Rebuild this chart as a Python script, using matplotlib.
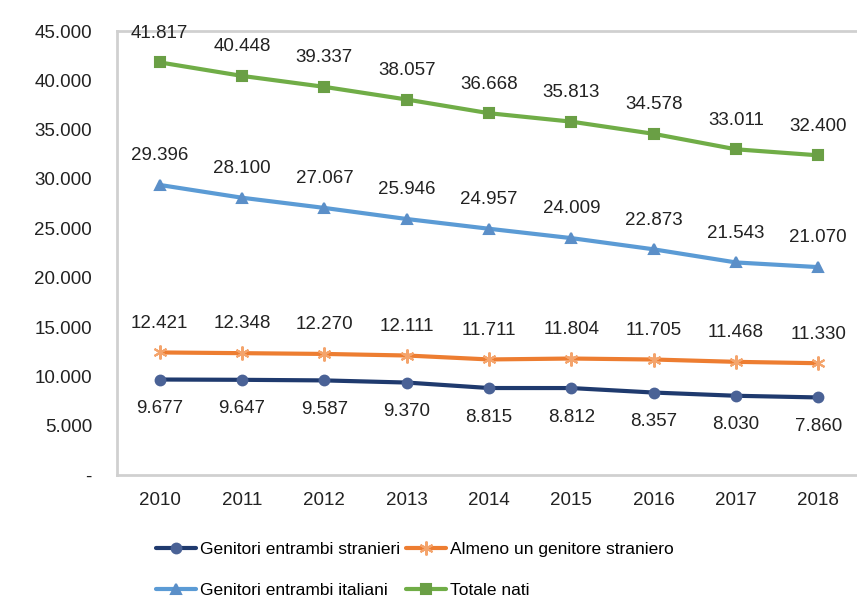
import matplotlib
matplotlib.use("Agg")
import matplotlib.pyplot as plt
from matplotlib.ticker import FuncFormatter
from matplotlib import font_manager

years = ["2010", "2011", "2012", "2013", "2014", "2015", "2016", "2017", "2018"]
stranieri = [9677, 9647, 9587, 9370, 8815, 8812, 8357, 8030, 7860]
almeno_uno = [12421, 12348, 12270, 12111, 11711, 11804, 11705, 11468, 11330]
italiani = [29396, 28100, 27067, 25946, 24957, 24009, 22873, 21543, 21070]
totale = [41817, 40448, 39337, 38057, 36668, 35813, 34578, 33011, 32400]
yticks = [0, 5000, 10000, 15000, 20000, 25000, 30000, 35000, 40000, 45000]

names = [f.name for f in font_manager.fontManager.ttflist]
fam = "Liberation Sans Narrow" if "Liberation Sans Narrow" in names else "Liberation Sans"
plt.rcParams["font.family"] = [fam, "DejaVu Sans"]

def fmt(v):
    if v == 0:
        return "-"
    return f"{int(v):,}".replace(",", ".")

fig = plt.figure(figsize=(8.57, 6.06), dpi=100)
ax = fig.add_axes([117/857, 1-475/606, (861-117)/857, (475-31)/606])
x = list(range(len(years)))

series = [
    (stranieri, "Genitori entrambi stranieri", "#1F3A6E", "o", -1, "#4A6296"),
    (almeno_uno, "Almeno un genitore straniero", "#ED7D31", (6, 2, 0), 1, "#F4A46C"),
    (italiani, "Genitori entrambi italiani", "#5B9BD5", "^", 1, "#5B8FC8"),
    (totale, "Totale nati", "#70AD47", "s", 1, "#6A9F45"),
]
handles = []
for vals, lab, col, mk, pos, mcol in series:
    ms = 7 if mk != (6, 2, 0) else 10
    h, = ax.plot(x, vals, color=col, lw=3.0, marker=mk, markersize=ms,
                 markerfacecolor=mcol, markeredgecolor=mcol, markeredgewidth=1.5,
                 label=lab, solid_capstyle="round")
    handles.append(h)
    for xi, v in zip(x, vals):
        ax.annotate(fmt(v), (xi, v), xytext=(0, 21 * pos), textcoords="offset points",
                    ha="center", va="center", fontsize=13.5, color="#222222")

ax.set_xlim(-0.52, len(years) - 0.48)
ax.set_ylim(0, 45000)
ax.set_xticks(x)
ax.set_xticklabels(years)
ax.set_yticks(yticks)
ax.yaxis.set_major_formatter(FuncFormatter(lambda v, p: fmt(v)))
ax.tick_params(axis="both", length=0, labelsize=13.5, colors="#222222")
ax.tick_params(axis="y", pad=18)
ax.tick_params(axis="x", pad=12)
for s in ["left", "top", "bottom"]:
    ax.spines[s].set_color("#D0D0D0")
    ax.spines[s].set_linewidth(2)
ax.spines["right"].set_visible(False)

fig.legend(handles=[handles[0], handles[2], handles[1], handles[3]],
           labels=["Genitori entrambi stranieri", "Genitori entrambi italiani",
                   "Almeno un genitore straniero", "Totale nati"],
           ncol=2, loc="upper left", bbox_to_anchor=(156/857, 1-542/606), frameon=False,
           borderpad=0, borderaxespad=0,
           fontsize=12.5, handlelength=2.3, handletextpad=0.25, columnspacing=0.3,
           labelspacing=1.5)

fig.savefig("out.png", dpi=100)
